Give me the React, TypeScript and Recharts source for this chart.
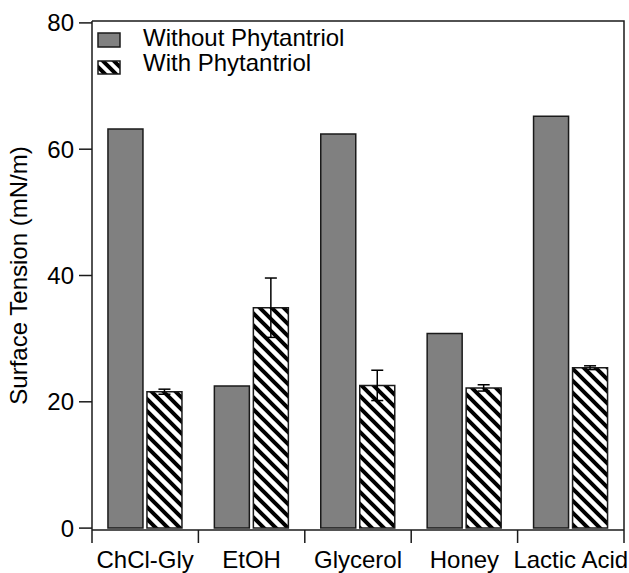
import React from 'react';
import { BarChart, Bar, XAxis, YAxis, ErrorBar, Legend } from 'recharts';

const categories = ['ChCl-Gly', 'EtOH', 'Glycerol', 'Honey', 'Lactic Acid'];
const withoutPhytantriol = [63.2, 22.5, 62.4, 30.8, 65.2];
const withPhytantriol = [21.6, 34.9, 22.6, 22.2, 25.4];
const withPhytantriolErr = [0.4, 4.7, 2.4, 0.5, 0.3];
const yTicks = [0, 20, 40, 60, 80];
const yDomain = [-0.3, 80.3];

const data = categories.map((name, i) => ({
  name,
  without: withoutPhytantriol[i],
  with: withPhytantriol[i],
  withErr: withPhytantriolErr[i],
}));

const FONT = '"Liberation Sans", Arial, sans-serif';
// the chart fills the whole window (wrapper is absolutely placed, so no scrollbar)
const WIDTH = 629;
const HEIGHT = 573;
const MARGIN = { top: 21, right: 5, bottom: 0, left: 8 };
const Y_AXIS_WIDTH = 84;
const X_AXIS_HEIGHT = 43;
const PLOT_W = WIDTH - MARGIN.left - MARGIN.right - Y_AXIS_WIDTH;
const PLOT_H = HEIGHT - MARGIN.top - MARGIN.bottom - X_AXIS_HEIGHT;
const BAND = PLOT_W / categories.length;
const AXIS_COLOR = '#1a1a1a';

// ticks sit between the categories, label in the middle;
// the last tick also closes the box (right and top edges)
const CategoryTick = (props: any) => {
  const { x, y, payload, index } = props;
  const half = BAND / 2;
  const last = index === categories.length - 1;
  const right = x + half;
  const top = y - PLOT_H;
  return (
    <g>
      <line x1={x - half} y1={y} x2={x - half} y2={y + 13} stroke={AXIS_COLOR} strokeWidth={1.5} />
      {last && (
        <path
          d={`M${right},${y + 13} L${right},${top} L${right - PLOT_W},${top}`}
          fill="none"
          stroke={AXIS_COLOR}
          strokeWidth={1.5}
        />
      )}
      <text x={x} y={y + 38} textAnchor="middle" fontSize={24} fontFamily={FONT} fill="#000">
        {payload.value}
      </text>
    </g>
  );
};

const renderLegend = () => (
  <svg width={300} height={70} style={{ display: 'block' }}>
    <defs>
      <pattern id="hatchLegend" patternUnits="userSpaceOnUse" width={11} height={11}>
        <rect width={11} height={11} fill="#fff" />
        <path d="M-2.75,8.25 L2.75,13.75 M0,0 L11,11 M8.25,-2.75 L13.75,2.75" stroke="#000" strokeWidth={4} />
      </pattern>
    </defs>
    <rect x={2} y={12} width={22} height={14} fill="#808080" stroke={AXIS_COLOR} strokeWidth={1.5} />
    <text x={47} y={25} fontSize={24} fontFamily={FONT} fill="#000">Without Phytantriol</text>
    <rect x={2} y={40} width={22} height={13} fill="url(#hatchLegend)" stroke={AXIS_COLOR} strokeWidth={1.5} />
    <text x={47} y={50} fontSize={24} fontFamily={FONT} fill="#000">With Phytantriol</text>
  </svg>
);

export default function App() {
  return (
    <div style={{ position: 'absolute', top: 0, left: 0, width: WIDTH, height: HEIGHT, background: '#fff' }}>
      <BarChart
        width={WIDTH}
        height={HEIGHT}
        data={data}
        margin={MARGIN}
        barCategoryGap="15%"
        barGap={4}
      >
        <defs>
          <pattern id="hatch" patternUnits="userSpaceOnUse" width={12} height={12}>
            <rect width={12} height={12} fill="#fff" />
            <path d="M-3,9 L3,15 M0,0 L12,12 M9,-3 L15,3" stroke="#000" strokeWidth={4} />
          </pattern>
        </defs>
        <XAxis
          dataKey="name"
          height={X_AXIS_HEIGHT}
          tickLine={false}
          tickSize={0}
          tickMargin={0}
          interval={0}
          axisLine={{ stroke: AXIS_COLOR, strokeWidth: 1.5 }}
          tick={<CategoryTick />}
        />
        <YAxis
          width={Y_AXIS_WIDTH}
          domain={yDomain}
          ticks={yTicks}
          interval={0}
          tickSize={13}
          tickMargin={5}
          tickLine={{ stroke: AXIS_COLOR, strokeWidth: 1.5 }}
          axisLine={{ stroke: AXIS_COLOR, strokeWidth: 1.5 }}
          tick={{ fontSize: 24, fontFamily: FONT, fill: '#000' }}
          label={{
            value: 'Surface Tension (mN/m)',
            angle: -90,
            position: 'insideLeft',
            offset: 10,
            style: { textAnchor: 'middle', fontSize: 24, fontFamily: FONT, fill: '#000' },
          }}
        />
        <Legend
          layout="horizontal"
          verticalAlign="middle"
          align="center"
          content={renderLegend}
          wrapperStyle={{ top: 21, left: 96, width: 300, height: 70 }}
        />
        <Bar dataKey="without" fill="#808080" stroke={AXIS_COLOR} strokeWidth={1.5} isAnimationActive={false} />
        <Bar dataKey="with" fill="url(#hatch)" stroke={AXIS_COLOR} strokeWidth={1.5} isAnimationActive={false}>
          <ErrorBar dataKey="withErr" width={6} stroke="#000" strokeWidth={1.5} direction="y" />
        </Bar>
      </BarChart>
    </div>
  );
}
